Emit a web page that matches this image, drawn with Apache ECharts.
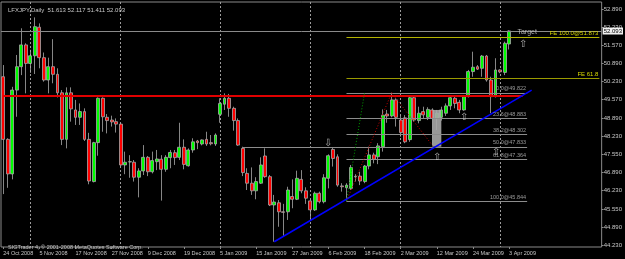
<!DOCTYPE html>
<html>
<head>
<meta charset="utf-8">
<script src="https://cdn.jsdelivr.net/npm/echarts@6/dist/echarts.min.js"></script>
<style>
html, body { margin: 0; padding: 0; background: #000; }
#main { width: 625px; height: 259px; }
</style>
</head>
<body>
<div id="main"></div>
<script>
// daily bars, 24 Oct 2008 .. 3 Apr 2009
const openP = [50.41,48.11,46.84,49.92,50.78,51.58,50.90,51.18,52.23,51.11,50.29,50.78,50.50,49.82,48.11,49.82,49.19,48.92,49.13,48.11,
  46.56,47.99,49.62,48.92,48.82,48.76,48.67,47.17,47.28,47.27,46.72,46.95,47.45,46.92,47.29,47.38,47.01,47.44,47.62,47.45,
  47.82,47.14,47.72,48.05,47.94,48.11,47.99,47.94,49.03,49.40,49.62,49.25,48.80,47.78,46.86,46.50,46.22,46.50,47.50,46.74,
  45.70,45.78,45.45,45.45,46.01,45.91,46.64,46.22,45.85,45.52,46.13,45.82,46.68,47.74,47.47,46.40,46.33,46.31,46.73,46.76,
  46.56,47.13,47.54,47.47,47.84,49.04,48.97,49.56,48.82,48.90,48.10,49.64,48.80,49.13,48.92,49.19,48.88,48.92,49.07,49.34,
  49.62,49.47,49.19,49.68,50.60,50.78,50.72,51.17,50.29,49.68,50.66,50.57,51.613];
const closeP = [48.11,46.84,49.92,50.78,51.58,50.90,51.18,52.25,51.11,50.29,50.78,50.50,49.82,48.11,49.82,49.23,48.92,49.13,48.11,46.58,
  47.99,49.62,48.94,48.80,48.75,48.67,47.17,47.27,47.29,46.72,46.95,47.45,46.92,47.33,47.39,47.01,47.45,47.63,47.44,47.82,
  47.19,47.72,48.02,47.99,48.09,47.94,47.95,48.27,49.43,49.62,49.25,48.80,47.90,46.89,46.50,46.22,46.56,47.17,46.74,45.70,
  45.81,45.45,45.43,46.25,45.91,46.68,46.22,45.95,45.52,46.13,45.82,46.70,47.51,47.41,46.43,46.37,46.43,47.08,46.75,46.58,
  47.13,47.54,47.38,47.87,49.00,48.97,49.56,48.92,48.36,48.02,49.64,48.82,49.07,49.01,49.21,48.88,49.07,49.19,49.34,49.64,
  49.43,49.19,49.68,50.60,50.76,50.69,51.17,50.29,49.68,50.66,50.59,51.64,52.093];
const lowP = [46.10,46.33,46.64,48.94,50.47,49.80,50.55,50.51,50.72,50.23,49.80,50.17,49.65,47.90,47.78,48.76,48.64,48.64,48.05,46.46,
  46.53,47.51,48.39,48.33,48.58,48.36,47.13,46.83,46.70,46.56,45.98,46.80,46.76,46.86,46.98,45.86,46.92,47.05,47.17,47.35,
  47.01,47.11,47.62,47.75,47.89,47.87,47.89,47.87,48.72,49.19,48.94,48.43,47.87,46.76,46.25,46.07,45.91,46.47,46.70,45.66,
  44.35,44.90,44.53,45.15,45.58,45.88,46.13,45.74,45.17,45.48,45.76,45.76,46.31,47.11,46.37,46.19,45.84,46.25,46.56,46.43,
  46.50,47.01,47.23,47.20,47.66,48.72,48.92,48.58,48.21,47.97,48.02,48.76,48.70,48.88,48.82,47.89,48.45,48.80,48.97,49.19,
  49.25,49.07,49.16,49.65,50.41,50.66,50.41,50.23,49.07,49.65,50.54,50.47,51.411];
const highP = [50.84,48.15,50.04,51.21,52.19,51.64,51.40,52.59,52.37,51.30,51.11,51.79,50.72,49.92,50.02,50.02,49.56,49.43,49.25,48.35,
  48.02,49.65,49.65,49.04,48.98,48.88,48.70,47.66,47.53,47.35,47.05,47.90,47.50,47.66,47.72,47.53,47.53,47.72,47.72,48.72,
  48.11,47.78,48.15,48.09,48.11,48.39,48.27,48.33,49.62,49.80,49.78,49.31,48.88,47.84,47.05,47.08,46.72,47.45,47.78,46.80,
  46.07,45.88,45.74,46.37,46.64,46.96,46.98,46.35,45.92,46.19,46.19,46.83,47.56,47.83,47.56,46.50,46.50,47.17,46.83,46.92,
  47.17,47.84,47.62,47.97,49.21,49.19,49.82,49.62,49.00,49.00,49.67,49.67,49.31,49.31,49.29,49.25,49.19,49.31,49.43,49.74,
  49.70,49.56,49.74,50.66,51.33,50.84,51.21,51.21,50.41,51.09,50.68,51.70,52.117];

const xLabels = ['24 Oct 2008','5 Nov 2008','17 Nov 2008','27 Nov 2008','9 Dec 2008','19 Dec 2008','5 Jan 2009',
  '15 Jan 2009','27 Jan 2009','6 Feb 2009','18 Feb 2009','2 Mar 2009','12 Mar 2009','24 Mar 2009','3 Apr 2009'];
const yLabels = ['44.230','44.890','45.550','46.230','46.890','47.550','48.230','48.890','49.570','50.230','50.890','51.570','52.230','52.890'];
const monthStarts = [6, 26, 48, 68, 88, 110];

const bid = 52.093;
const redLevel = 49.703;
const trendBars = [60, 117];
const trendPrices = [44.35, 49.92];
const fibNames = ['0.0', '23.6', '38.2', '50.0', '61.8', '100.0'];
const fibPrices = [49.822, 48.883, 48.302, 47.833, 47.364, 45.844];
const feNames = ['FE 100.0@51.873', 'FE 61.8'];
const fePrices = [51.873, 50.353];
const feBars = [76, 86, 95];
const fePoints = [45.844, 49.822, 47.895];
const arrowBars = [72, 96, 102, 109, 115];
const arrowPrices = [47.98, 47.47, 48.91, 47.64, 51.62];
const arrowGlyphs = ['\u21e9', '\u21e7', '\u21e7', '\u21e7', '\u21e7'];

const nSlots = 133;
const yMin = 44.1565, yMax = 53.1556;
const cats = [];
for (let i = 0; i < nSlots; i++) cats.push(String(i));

const candles = openP.map((o, i) => [o, closeP[i], lowP[i], highP[i]]);

const labelAt = i => i % 8 === 0 && i / 8 < xLabels.length;
const monthAt = i => monthStarts.indexOf(i) >= 0;
const font = 'Liberation Sans, Arial, sans-serif';

// fibo levels and the expansion lines
const objLines = [];
fibPrices.forEach((p, i) => {
    objLines.push([
        { coord: [i === 3 ? 53 : 76, p], lineStyle: { color: '#8c8c8c', width: 1, type: 'solid' },
          label: { show: true, position: 'insideEndTop', distance: 1, formatter: fibNames[i] + '@' + p.toFixed(3),
                   color: '#9a9a9a', fontSize: 5.5 } },
        { coord: [116, p] }
    ]);
});
fePrices.forEach((p, i) => {
    objLines.push([
        { coord: [76, p], lineStyle: { color: i === 0 ? '#b4b400' : '#9a9a00', width: 1, type: 'solid' },
          label: { show: true, position: 'insideEndTop', distance: 1, formatter: feNames[i], color: '#d8d800', fontSize: 6 } },
        { coord: [132, p] }
    ]);
});
objLines.push([
    { coord: [0, redLevel], lineStyle: { color: '#e00000', width: 2, type: 'solid' } },
    { coord: [115, redLevel] }
]);
objLines.push([
    { coord: [trendBars[0], trendPrices[0]], lineStyle: { color: '#0000ff', width: 1.6, type: 'solid' } },
    { coord: [trendBars[1], trendPrices[1]] }
]);
for (let i = 0; i < 2; i++) {
    objLines.push([
        { coord: [feBars[i], fePoints[i]], lineStyle: { color: '#d00000', width: 1, type: [1, 2] } },
        { coord: [feBars[i + 1], fePoints[i + 1]] }
    ]);
}
objLines.push([
    { coord: [76, fibPrices[5]], lineStyle: { color: '#00a000', width: 1, type: [1, 2] } },
    { coord: [80, fibPrices[0]] }
]);

const marks = arrowBars.map((b, i) => ({ value: [b, arrowPrices[i], arrowGlyphs[i]], label: { fontSize: 10 } }));
marks.push({ value: [116, 52.05, 'Target'] });

const chart = echarts.init(document.getElementById('main'));
chart.setOption({
    backgroundColor: '#000000',
    animation: false,
    textStyle: { fontFamily: font },
    title: [
        { text: 'LFXJPY,Daily  51.613 52.117 51.411 52.093', left: 3, top: 2,
          textStyle: { color: '#c8c8c8', fontSize: 6, fontWeight: 'normal', fontFamily: font } },
        { text: 'SIGTrader 4, \u00a9 2001-2008 MetaQuotes Software Corp.', left: 3, top: 239,
          textStyle: { color: '#c8c8c8', fontSize: 5.5, fontWeight: 'normal', fontFamily: font } }
    ],
    grid: { left: 1, right: 23, top: 2, bottom: 12, show: true, borderColor: '#8a8a8a', borderWidth: 1 },
    xAxis: {
        type: 'category', data: cats, boundaryGap: true,
        axisLine: { show: false },
        axisTick: { show: true, interval: labelAt, alignWithLabel: true, length: 2, lineStyle: { color: '#8a8a8a' } },
        axisLabel: { interval: labelAt, formatter: (v, i) => xLabels[i / 8] || '', align: 'left',
                     color: '#c8c8c8', fontSize: 5.5, margin: 3, hideOverlap: false },
        // month separators, as the MT4 grid draws them
        splitLine: { show: true, interval: monthAt, alignWithLabel: true,
                     lineStyle: { color: '#9a9a9a', width: 1, type: [2, 2] } }
    },
    yAxis: {
        type: 'value', position: 'right', min: yMin, max: yMax,
        axisLine: { show: false }, splitLine: { show: false },
        axisTick: { show: true, customValues: yLabels.map(Number), length: 2, lineStyle: { color: '#8a8a8a' } },
        axisLabel: { customValues: yLabels.map(Number), formatter: v => v.toFixed(3), color: '#c8c8c8', fontSize: 6, margin: 2 }
    },
    series: [
        {
            type: 'candlestick', data: candles, barWidth: 3.4, z: 2,
            itemStyle: { color: '#00ff00', color0: '#ff0000', borderColor: '#a8a8a8', borderColor0: '#a8a8a8', borderWidth: 0.8 },
            markLine: {
                silent: true, symbol: ['none', 'none'], z: 3,
                data: [{ yAxis: bid, lineStyle: { color: '#8a8a8a', width: 1, type: 'solid' },
                         label: { show: true, position: 'end', distance: 1, formatter: bid.toFixed(3), color: '#000',
                                  backgroundColor: '#f0f0f0', fontSize: 6, padding: [1, 1, 0, 1] } }]
            }
        },
        {
            type: 'scatter', z: 6, silent: true, symbolSize: 1,
            itemStyle: { color: 'rgba(0,0,0,0)' },
            data: marks,
            label: { show: true, position: 'inside', formatter: p => p.value[2], color: '#d0d0d0', fontSize: 7 },
            markArea: {
                silent: true, z: 4,
                itemStyle: { color: '#a8a8a8', opacity: 0.9 },
                data: [[{ coord: [95, 49.19] }, { coord: [97, 47.84] }]]
            },
            markLine: { silent: true, symbol: ['none', 'none'], z: 5, label: { show: false }, data: objLines }
        }
    ]
});
</script>
</body>
</html>
